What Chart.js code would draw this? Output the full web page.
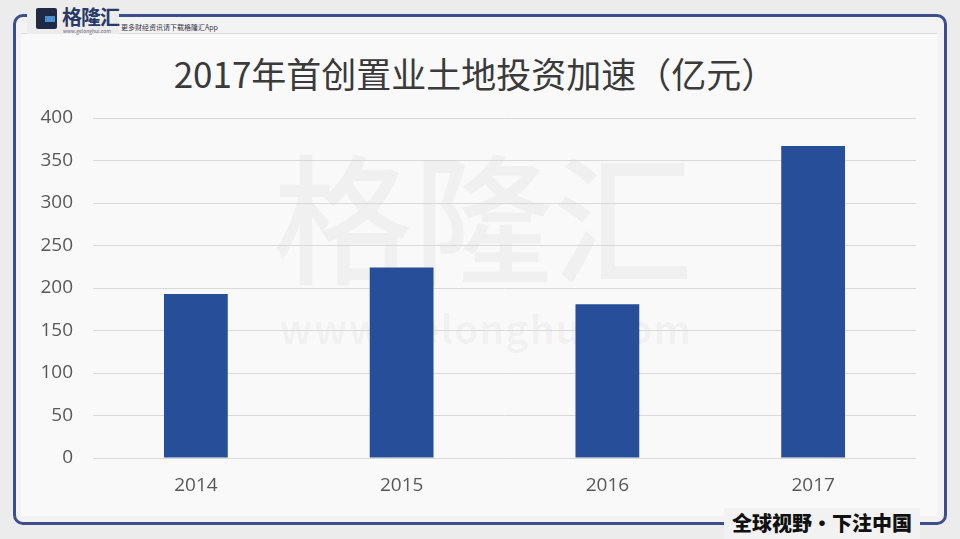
<!DOCTYPE html>
<html>
<head>
<meta charset="utf-8">
<script src="https://cdn.jsdelivr.net/npm/chart.js@4/dist/chart.umd.min.js"></script>
<style>
  html,body{margin:0;padding:0;}
  body{width:960px;height:539px;position:relative;overflow:hidden;background:#ececec;font-family:"Noto Sans CJK SC","Noto Sans",sans-serif;}
  .frame{position:absolute;left:13px;top:14px;width:928px;height:505px;border:3px solid #3c4f8c;border-radius:10px;background:#f3f3f3;}
  .inner{position:absolute;left:21px;top:33px;width:916px;height:482px;background:#f9f9f9;border-top:1px solid #dcdcdc;}
  .logo{position:absolute;left:27px;top:0;width:92px;height:34px;background:#ececec;}
  .gicon{position:absolute;left:36px;top:8px;width:21px;height:21px;background:#1f2a44;border-radius:2px;}
  .gicon:after{content:"";position:absolute;left:9px;top:8px;width:10px;height:6px;background:#4b8fd0;}
  .logotext{position:absolute;left:62px;top:2px;font-size:20px;font-weight:bold;color:#2a3a66;letter-spacing:-1px;}
  .logosub{position:absolute;left:63px;top:27px;font-size:5px;color:#667;}
  .tagline{position:absolute;left:121px;top:22px;font-size:7px;color:#334;}
  .title{position:absolute;left:0;width:950px;top:50px;text-align:center;font-size:35px;line-height:46px;color:#3a3a3a;}
  .wm{position:absolute;color:rgba(0,0,0,0.035);white-space:nowrap;}
  .slogan{position:absolute;left:724px;top:508px;width:196px;height:31px;background:#f2f2f2;text-align:center;font-size:20px;line-height:30px;font-weight:900;color:#111;}
  canvas{position:absolute;left:0;top:0;}
</style>
</head>
<body>
<div class="frame"></div>
<div class="inner"></div>
<div class="logo"></div>
<div class="gicon"></div>
<div class="logotext">格隆汇</div>
<div class="logosub">www.gelonghui.com</div>
<div class="tagline">更多财经资讯请下载格隆汇App</div>
<div class="title">2017年首创置业土地投资加速（亿元）</div>
<div class="wm" style="left:273px;top:122px;font-size:140px;line-height:180px;font-weight:500;">格隆汇</div>
<div class="wm" style="left:279px;top:302px;font-size:39px;line-height:50px;letter-spacing:1px;font-weight:bold;">www.gelonghui.com</div>
<div class="slogan">全球视野・下注中国</div>
<canvas id="c" width="960" height="539"></canvas>
<script>
const categories = ['2014', '2015', '2016', '2017'];
const investment = [193, 224, 181, 367];
const yTicks = [0, 50, 100, 150, 200, 250, 300, 350, 400];

const ctx = document.getElementById('c');
new Chart(ctx, {
  type: 'bar',
  data: {
    labels: categories,
    datasets: [{
      label: '土地投资（亿元）',
      data: investment,
      backgroundColor: '#264e99',
      borderWidth: 0,
      barPercentage: 0.31,
      categoryPercentage: 1.0
    }]
  },
  options: {
    responsive: false,
    animation: false,
    layout: { padding: { left: 33, right: 44, top: 118, bottom: 41 } },
    plugins: { legend: { display: false }, tooltip: { enabled: false }, title: { display: false } },
    scales: {
      x: {
        grid: { display: false, drawTicks: false },
        border: { display: false },
        ticks: { color: '#595959', font: { family: 'Open Sans', size: 19 }, padding: 16 },
        afterFit: s => { s.height = 40; }
      },
      y: {
        min: 0, max: 400,
        afterBuildTicks: s => { s.ticks = yTicks.map(v => ({ value: v })); },
        grid: { color: '#d9d9d9', lineWidth: 1, drawTicks: false },
        border: { display: false },
        ticks: { color: '#595959', font: { family: 'Open Sans', size: 19 }, padding: 20 },
        afterFit: s => { s.width = 60; }
      }
    }
  }
});
</script>
</body>
</html>
